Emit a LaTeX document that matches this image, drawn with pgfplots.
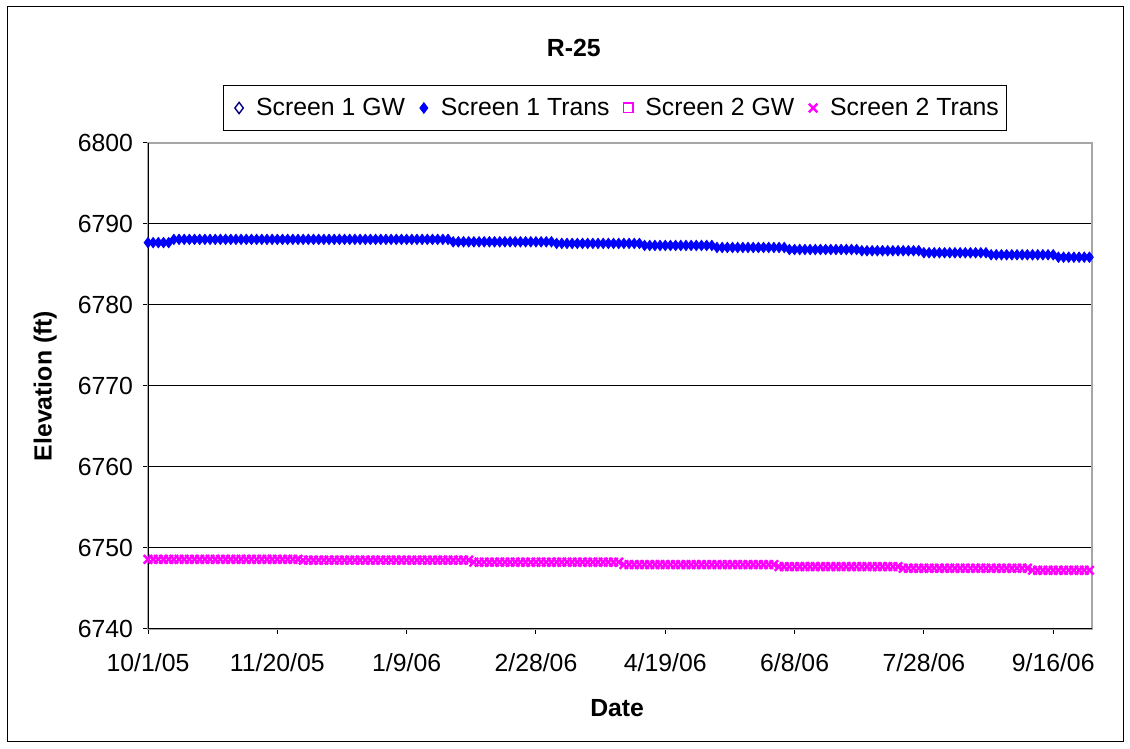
\documentclass[border=0pt]{standalone}
\usepackage{pgfplots}
\pgfplotsset{compat=1.18}
\usepackage{fontspec}
\setmainfont{Liberation Sans}
\definecolor{sblue}{RGB}{0,0,255}
\definecolor{snavy}{RGB}{0,0,128}
\definecolor{spink}{RGB}{255,0,255}
\begin{document}
\begin{tikzpicture}
\useasboundingbox (0,0) rectangle (565pt,374.5pt);
\draw[black,line width=0.5pt] (3.5pt,3.5pt) rectangle (561.5pt,371pt);
\begin{axis}[
  scale only axis, width=472pt, height=243pt,
  at={(74pt,60pt)}, anchor=south west,
  xmin=0, xmax=365, ymin=6740, ymax=6800,
  xtick={0,50,100,150,200,250,300,350},
  xticklabels={10/1/05,11/20/05,1/9/06,2/28/06,4/19/06,6/8/06,7/28/06,9/16/06},
  ytick={6740,6750,6760,6770,6780,6790,6800},
  /pgf/number format/set thousands separator={},
  /pgf/number format/assume math mode=true,
  tick align=outside, tick pos=left,
  major tick length=2.5pt,
  tick style={black, line width=0.5pt},
  ymajorgrids, grid style={black, line width=0.5pt},
  axis line style={gray!70, line width=0.6pt},
  font=\fontsize{12.4}{14}\selectfont,
  ticklabel style={font=\fontsize{12.4}{14}\selectfont},
  xticklabel style={yshift=-6pt},
  yticklabel style={xshift=-1.5pt},
  title={\bfseries R-25},
  title style={at={(axis description cs:0.451,1.17)}, anchor=center, font=\fontsize{12.4}{14}\selectfont},
  xlabel={\bfseries Date},
  xlabel style={at={(axis description cs:0.497,-0.1626)}, anchor=center},
  ylabel={\bfseries Elevation (ft)},
  ylabel style={at={(axis description cs:-0.109,0.5)}, anchor=center},
  legend columns=4,
  legend style={at={(axis description cs:0.4947,1.072)}, anchor=center,
    draw=black, line width=0.5pt, font=\fontsize{12.4}{14}\selectfont,
    /tikz/every even column/.append style={column sep=1.5pt},
    inner xsep=2pt, inner ysep=4pt},
  legend image code/.code={\path (0cm,0cm) (0.42cm,0cm); \draw[#1] plot coordinates {(0.2cm,0cm)};},
  legend cell align=left,
]
\addlegendimage{only marks, mark=diamond, mark size=2.8pt, mark options={draw=snavy, fill=white, line width=0.7pt}}
\addlegendentry{Screen 1 GW}
\addplot[only marks, mark=diamond*, mark size=2.6pt, color=sblue, mark options={draw=sblue, fill=sblue}] coordinates {
(0,6787.7)(2,6787.7)(4,6787.7)(6,6787.7)(8,6787.7)
(10,6788.1)(12,6788.1)(14,6788.1)(16,6788.1)(18,6788.1)(20,6788.1)(22,6788.1)(24,6788.1)(26,6788.1)(28,6788.1)
(30,6788.1)(32,6788.1)(34,6788.1)(36,6788.1)(38,6788.1)(40,6788.1)(42,6788.1)(44,6788.1)(46,6788.1)(48,6788.1)
(50,6788.1)(52,6788.1)(54,6788.1)(56,6788.1)(58,6788.1)(60,6788.1)(62,6788.1)(64,6788.1)(66,6788.1)(68,6788.1)
(70,6788.1)(72,6788.1)(74,6788.1)(76,6788.1)(78,6788.1)(80,6788.1)(82,6788.1)(84,6788.1)(86,6788.1)(88,6788.1)
(90,6788.1)(92,6788.1)(94,6788.1)(96,6788.1)(98,6788.1)(100,6788.1)(102,6788.1)(104,6788.1)(106,6788.1)(108,6788.1)
(110,6788.1)(112,6788.1)(114,6788.1)(116,6788.1)
(118,6787.8)(120,6787.8)(122,6787.8)(124,6787.8)(126,6787.8)(128,6787.8)(130,6787.8)(132,6787.8)(134,6787.8)(136,6787.8)
(138,6787.8)(140,6787.8)(142,6787.8)(144,6787.8)(146,6787.8)(148,6787.8)(150,6787.8)(152,6787.8)(154,6787.8)(156,6787.8)
(158,6787.6)(160,6787.6)(162,6787.6)(164,6787.6)(166,6787.6)(168,6787.6)(170,6787.6)(172,6787.6)(174,6787.6)(176,6787.6)
(178,6787.6)(180,6787.6)(182,6787.6)(184,6787.6)(186,6787.6)(188,6787.6)(190,6787.6)
(192,6787.35)(194,6787.35)(196,6787.35)(198,6787.35)(200,6787.35)(202,6787.35)(204,6787.35)(206,6787.35)(208,6787.35)(210,6787.35)
(212,6787.35)(214,6787.35)(216,6787.35)(218,6787.35)
(220,6787.1)(222,6787.1)(224,6787.1)(226,6787.1)(228,6787.1)(230,6787.1)(232,6787.1)(234,6787.1)(236,6787.1)(238,6787.1)
(240,6787.1)(242,6787.1)(244,6787.1)(246,6787.1)
(248,6786.85)(250,6786.85)(252,6786.85)(254,6786.85)(256,6786.85)(258,6786.85)(260,6786.85)(262,6786.85)(264,6786.85)(266,6786.85)
(268,6786.85)(270,6786.85)(272,6786.85)(274,6786.85)
(276,6786.7)(278,6786.7)(280,6786.7)(282,6786.7)(284,6786.7)(286,6786.7)(288,6786.7)(290,6786.7)(292,6786.7)(294,6786.7)
(296,6786.7)(298,6786.7)
(300,6786.45)(302,6786.45)(304,6786.45)(306,6786.45)(308,6786.45)(310,6786.45)(312,6786.45)(314,6786.45)(316,6786.45)(318,6786.45)
(320,6786.45)(322,6786.45)(324,6786.45)
(326,6786.2)(328,6786.2)(330,6786.2)(332,6786.2)(334,6786.2)(336,6786.2)(338,6786.2)(340,6786.2)(342,6786.2)(344,6786.2)
(346,6786.2)(348,6786.2)(350,6786.2)
(352,6785.9)(354,6785.9)(356,6785.9)(358,6785.9)(360,6785.9)(362,6785.9)(364,6785.9)
};
\addlegendentry{Screen 1 Trans}
\addlegendimage{only marks, mark=square, mark size=2.4pt, mark options={draw=spink, fill=white, line width=0.7pt}}
\addlegendentry{Screen 2 GW}
\addplot[only marks, mark=x, mark size=3pt, color=spink, mark options={draw=spink, line width=1.2pt}] coordinates {
(0,6748.6)(2,6748.6)(4,6748.6)(6,6748.6)(8,6748.6)(10,6748.6)(12,6748.6)(14,6748.6)(16,6748.6)(18,6748.6)
(20,6748.6)(22,6748.6)(24,6748.6)(26,6748.6)(28,6748.6)(30,6748.6)(32,6748.6)(34,6748.6)(36,6748.6)(38,6748.6)
(40,6748.6)(42,6748.6)(44,6748.6)(46,6748.6)(48,6748.6)(50,6748.6)(52,6748.6)(54,6748.6)(56,6748.6)(58,6748.6)
(60,6748.5)(62,6748.5)(64,6748.5)(66,6748.5)(68,6748.5)(70,6748.5)(72,6748.5)(74,6748.5)(76,6748.5)(78,6748.5)
(80,6748.5)(82,6748.5)(84,6748.5)(86,6748.5)(88,6748.5)(90,6748.5)(92,6748.5)(94,6748.5)(96,6748.5)(98,6748.5)
(100,6748.5)(102,6748.5)(104,6748.5)(106,6748.5)(108,6748.5)(110,6748.5)(112,6748.5)(114,6748.5)(116,6748.5)(118,6748.5)
(120,6748.5)(122,6748.5)(124,6748.5)
(126,6748.25)(128,6748.25)(130,6748.25)(132,6748.25)(134,6748.25)(136,6748.25)(138,6748.25)(140,6748.25)(142,6748.25)(144,6748.25)
(146,6748.25)(148,6748.25)(150,6748.25)(152,6748.25)(154,6748.25)(156,6748.25)(158,6748.25)(160,6748.25)(162,6748.25)(164,6748.25)
(166,6748.25)(168,6748.25)(170,6748.25)(172,6748.25)(174,6748.25)(176,6748.25)(178,6748.25)(180,6748.25)(182,6748.25)
(184,6747.95)(186,6747.95)(188,6747.95)(190,6747.95)(192,6747.95)(194,6747.95)(196,6747.95)(198,6747.95)(200,6747.95)(202,6747.95)
(204,6747.95)(206,6747.95)(208,6747.95)(210,6747.95)(212,6747.95)(214,6747.95)(216,6747.95)(218,6747.95)(220,6747.95)(222,6747.95)
(224,6747.95)(226,6747.95)(228,6747.95)(230,6747.95)(232,6747.95)(234,6747.95)(236,6747.95)(238,6747.95)(240,6747.95)(242,6747.95)
(244,6747.7)(246,6747.7)(248,6747.7)(250,6747.7)(252,6747.7)(254,6747.7)(256,6747.7)(258,6747.7)(260,6747.7)(262,6747.7)
(264,6747.7)(266,6747.7)(268,6747.7)(270,6747.7)(272,6747.7)(274,6747.7)(276,6747.7)(278,6747.7)(280,6747.7)(282,6747.7)
(284,6747.7)(286,6747.7)(288,6747.7)(290,6747.7)
(292,6747.5)(294,6747.5)(296,6747.5)(298,6747.5)(300,6747.5)(302,6747.5)(304,6747.5)(306,6747.5)(308,6747.5)(310,6747.5)
(312,6747.5)(314,6747.5)(316,6747.5)(318,6747.5)(320,6747.5)(322,6747.5)(324,6747.5)(326,6747.5)(328,6747.5)(330,6747.5)
(332,6747.5)(334,6747.5)(336,6747.5)(338,6747.5)(340,6747.5)
(342,6747.25)(344,6747.25)(346,6747.25)(348,6747.25)(350,6747.25)(352,6747.25)(354,6747.25)(356,6747.25)(358,6747.25)(360,6747.25)
(362,6747.25)(364,6747.25)
};
\addlegendentry{Screen 2 Trans}
\draw[black, line width=0.7pt] (rel axis cs:0,1) -- (rel axis cs:0,0) -- (rel axis cs:1,0);
\end{axis}
\end{tikzpicture}
\end{document}
